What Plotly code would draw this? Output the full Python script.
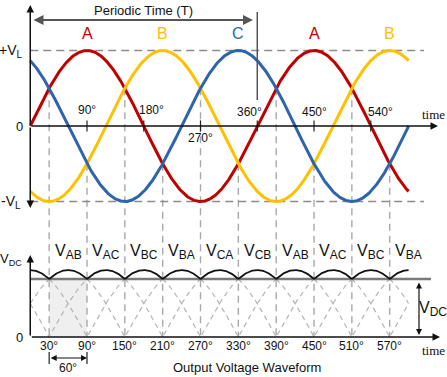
import numpy as np
import plotly.graph_objects as go

# ---------------- data ----------------
phase_names = ["A", "B", "C"]
phase_shift_deg = [0, 120, 240]
phase_colors = ["#C00000", "#FFC000", "#2E64AC"]
amplitude = 1.0
theta_start = 0
theta_end = 600

peak_label_names = ["A", "B", "C", "A", "B"]
peak_label_deg = [90, 210, 330, 450, 570]

top_tick_deg = [90, 180, 270, 360, 450, 540]
top_tick_text = ["90°", "180°", "270°", "360°", "450°", "540°"]

cross_deg = [30, 90, 150, 210, 270, 330, 390, 450, 510, 570]
cross_text = ["30°", "90°", "150°", "210°", "270°", "330°", "390°", "450°", "510°", "570°"]

line_label_pairs = ["AB", "AC", "BC", "BA", "CA", "CB", "AB", "AC", "BC", "BA"]
line_label_deg = [60, 120, 180, 240, 300, 360, 420, 480, 540, 600]

period_deg = 360
span_marker_deg = [30, 90]   # the shaded 60° pulse

# ---------------- layout geometry (pixels -> axis units) ----------------
W, H = 447, 377
S, X0 = 0.6306, 30.25            # px per degree, x pixel of 0°
YT0, YTU = 126.0, 75.5           # top plot: pixel of 0, px per unit
YB0, YBU = 337.0, 66.97          # bottom plot: pixel of 0, px per unit

def xd(p): return (p - X0) / S
def yt(p): return (YT0 - p) / YTU
def yb(p): return (YB0 - p) / YBU
def b2t(v): return yt(YB0 - v * YBU)   # bottom-axis value -> top-axis value

FONT = "Arial, Liberation Sans, sans-serif"
SERIF = "Times New Roman, Liberation Serif, serif"
GREY_D = "#A9A9A9"

def vsub(main, sub, size):
    small = round(size * 0.72)
    return (f"<span style='font-size:{size}px'>{main}</span>"
            f"<sub><span style='font-size:{small}px'>{sub}</span></sub>")

# ---------------- computed curves ----------------
theta = np.arange(theta_start, theta_end + 0.25, 0.5)
phases = [amplitude * np.sin(np.radians(theta - s)) for s in phase_shift_deg]
A, B, C = phases
lines = [(A - B) / np.sqrt(3), (B - C) / np.sqrt(3), (C - A) / np.sqrt(3)]
env = np.max(np.abs(np.vstack(lines)), axis=0)
valley = np.cos(np.radians(30))

fig = go.Figure()

# vertical dashed guides from phase crossings down to the bottom axis
for d in cross_deg:
    vals = sorted(amplitude * np.sin(np.radians(d - s)) for s in phase_shift_deg)
    fig.add_trace(go.Scatter(x=[d, d], y=[vals[1], b2t(0)], mode="lines",
                             line=dict(color=GREY_D, width=1.4, dash="7px,5px"),
                             hoverinfo="skip", showlegend=False))

# dashed ±VL
for v in [amplitude, -amplitude]:
    fig.add_trace(go.Scatter(x=[0, xd(424)], y=[v, v], mode="lines",
                             line=dict(color="#8C8C8C", width=1.3, dash="8px,5px"),
                             hoverinfo="skip", showlegend=False))

# phase sine curves
for name, y, col in zip(phase_names, phases, phase_colors):
    fig.add_trace(go.Scatter(x=theta, y=y, mode="lines", name=name,
                             line=dict(color=col, width=3), showlegend=False))

# top axis ticks
fig.add_trace(go.Scatter(x=top_tick_deg, y=[0] * len(top_tick_deg), mode="markers",
                         marker=dict(symbol="line-ns-open", size=8, color="#222",
                                     line=dict(color="#222", width=1.2)),
                         hoverinfo="skip", showlegend=False))

# bottom: dashed non-conducting parts of line voltages
for lv in lines:
    a = np.abs(lv)
    a = np.where(a <= valley + 1e-9, a, np.nan)
    fig.add_trace(go.Scatter(x=theta, y=a, yaxis="y2", mode="lines",
                             line=dict(color="#B4B4B4", width=1.2, dash="5px,4px"),
                             hoverinfo="skip", showlegend=False, connectgaps=False))

# valley (DC) line
fig.add_trace(go.Scatter(x=[0, xd(431)], y=[valley, valley], yaxis="y2", mode="lines",
                         line=dict(color="#7A7A7A", width=2.5), hoverinfo="skip", showlegend=False))
# ripple envelope
fig.add_trace(go.Scatter(x=theta, y=env, yaxis="y2", mode="lines",
                         line=dict(color="#111", width=1.8), hoverinfo="skip", showlegend=False))

shapes = [dict(type="rect", xref="x", yref="y2", x0=span_marker_deg[0], x1=span_marker_deg[1],
               y0=0, y1=valley, fillcolor="#EFEFEF", line=dict(width=0), layer="below"),
          # period end marker
          dict(type="line", xref="x", yref="y", x0=period_deg, x1=period_deg, y0=yt(100), y1=yt(12),
               line=dict(color="#555", width=1.5)),
          # 60° dimension end ticks
          dict(type="line", xref="x", yref="y2", x0=span_marker_deg[0], x1=span_marker_deg[0],
               y0=yb(352), y1=yb(364), line=dict(color="#222", width=1.2)),
          dict(type="line", xref="x", yref="y2", x0=span_marker_deg[1], x1=span_marker_deg[1],
               y0=yb(352), y1=yb(364), line=dict(color="#222", width=1.2)),
          ]

ann = []
def text(x, y, s, yref="y", size=12, color="#111", xanchor="center", yanchor="middle",
         family=FONT, xshift=0, yshift=0):
    ann.append(dict(x=x, y=y, xref="x", yref=yref, text=s, showarrow=False,
                    font=dict(family=family, size=size, color=color),
                    xanchor=xanchor, yanchor=yanchor, xshift=xshift, yshift=yshift))

def arrow(x0, y0, x1, y1, yref="y", color="#111", width=1.5, head=2, size=1.0, side="end"):
    ann.append(dict(x=x1, y=y1, ax=x0, ay=y0, xref="x", yref=yref, axref="x", ayref=yref,
                    text="", showarrow=True, arrowhead=head, arrowsize=size, arrowwidth=width,
                    arrowcolor=color, arrowside=side, startarrowhead=head, startarrowsize=size,
                    standoff=0, startstandoff=0))

# axes with arrows
arrow(0, 0, 0, yt(5))
arrow(0, 0, 0, yt(208))
arrow(0, 0, xd(438), 0)
arrow(0, 0, 0, yb(255), yref="y2")
arrow(0, 0, xd(440), 0, yref="y2")
# periodic time double arrow
arrow(xd(32), yt(20), xd(253), yt(20), color="#555", width=2, side="end+start")
# 60° dimension
arrow(span_marker_deg[0], yb(358), span_marker_deg[1], yb(358), yref="y2", width=1.2, side="end+start")
# VDC dimension
arrow(xd(419), yb(281), xd(419), yb(335), yref="y2", width=1.2, side="end+start")

# texts
text(period_deg / 2, yt(10), "Periodic Time (T)", size=13)
for n, d in zip(peak_label_names, peak_label_deg):
    text(d, yt(33), n, size=16, color=phase_colors[phase_names.index(n)])
text(0, amplitude, vsub("+V", "L", 14), size=14, xanchor="right", xshift=-5)
text(0, 0, "0", size=13, xanchor="right", xshift=-5)
text(0, -amplitude, vsub("-V", "L", 14), size=14, xanchor="right", xshift=-7)
tick_shift = [(0, 16), (8, 16), (0, -12), (-8, 14), (0, 14), (10, 14)]
for d, t, (dx, dy) in zip(top_tick_deg, top_tick_text, tick_shift):
    text(d, 0, t, size=12, xshift=dx, yshift=dy)
text(xd(433), yt(114), "time", size=13, family=SERIF)

for p, d in zip(line_label_pairs, line_label_deg):
    text(d, yb(252), vsub("V", p, 16), yref="y2", size=16)
text(0, yb(259), vsub("V", "DC", 13), yref="y2", size=13, xanchor="right", xshift=-6)
text(0, 0, "0", yref="y2", size=13, xanchor="right", xshift=-5)
for d, t in zip(cross_deg, cross_text):
    text(d, yb(346), t, yref="y2", size=12)
text(sum(span_marker_deg) / 2, yb(368), "60°", yref="y2", size=12)
text(xd(247), yb(367), "Output Voltage Waveform", yref="y2", size=13)
text(xd(433), yb(350), "time", yref="y2", size=13, family=SERIF)
text(xd(433), yb(309), vsub("V", "DC", 16), yref="y2", size=16)

fig.update_layout(
    width=W, height=H, margin=dict(l=0, r=0, t=0, b=0),
    paper_bgcolor="white", plot_bgcolor="white", showlegend=False,
    xaxis=dict(range=[xd(0), xd(W)], visible=False, fixedrange=True),
    yaxis=dict(range=[yt(H), yt(0)], visible=False, fixedrange=True),
    yaxis2=dict(range=[yb(H), yb(0)], visible=False, overlaying="y", fixedrange=True),
    shapes=shapes, annotations=ann,
)

fig.write_html("out.html", config={"displayModeBar": False},
               post_script="document.body.style.margin='0';document.body.style.overflow='hidden';")
